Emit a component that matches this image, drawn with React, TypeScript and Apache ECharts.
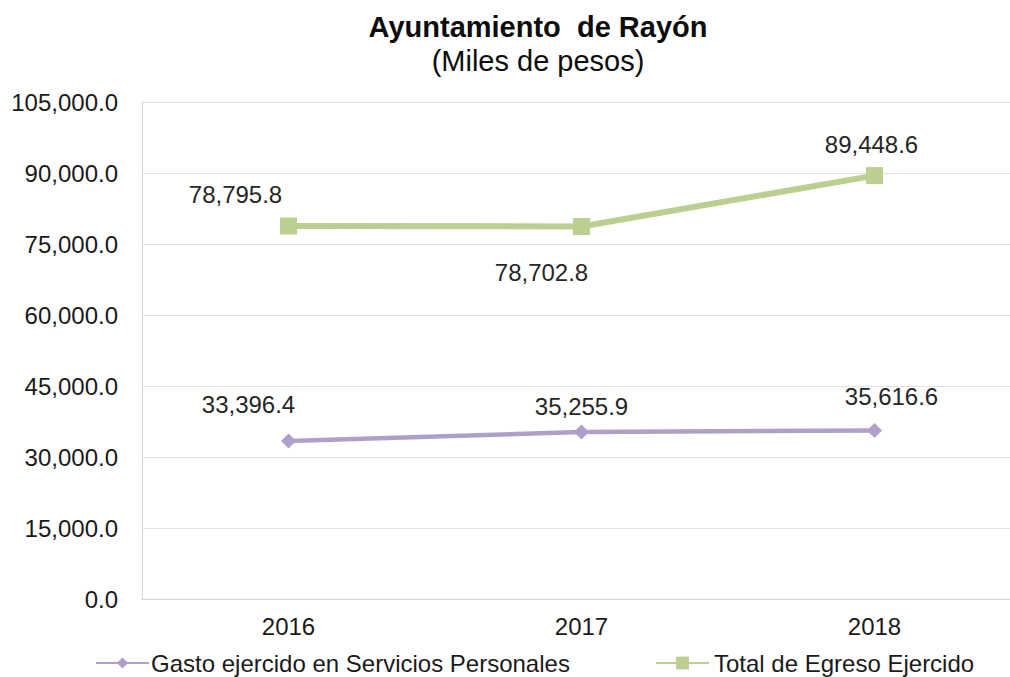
import React, { useEffect, useRef } from "react";
import * as echarts from "echarts";

const categories = ["2016", "2017", "2018"];
const gastoServicios = [33396.4, 35255.9, 35616.6];
const totalEgreso = [78795.8, 78702.8, 89448.6];
const seriesNames = ["Gasto ejercido en Servicios Personales", "Total de Egreso Ejercido"];
const titleText = "Ayuntamiento  de Rayón";
const subtitleText = "(Miles de pesos)";

// label placement (styling only)
const gastoLabelOffsets = [[-40, -36], [0, -26], [17, -34]];
const totalLabelOffsets = [[-53, -32], [-40, 46], [-3, -31]];

const FONT = "'Liberation Sans', Arial, sans-serif";
const GREEN = "#BBCF91";
const PURPLE = "#AFA0CA";
const fmt = (v: number) =>
  v.toLocaleString("en-US", { minimumFractionDigits: 1, maximumFractionDigits: 1 });

export default function App() {
  const ref = useRef<HTMLDivElement>(null);
  useEffect(() => {
    if (!ref.current) return;
    const chart = echarts.init(ref.current, undefined, { renderer: "svg" });
    const labelStyle = {
      show: true,
      position: "inside" as const,
      fontFamily: FONT,
      fontSize: 24,
      color: "#262626",
      formatter: (p: any) => fmt(p.value),
    };
    chart.setOption({
      animation: false,
      backgroundColor: "#ffffff",
      title: [
        {
          text: titleText,
          left: 533,
          top: 7,
          padding: 5,
          textAlign: "center",
          textStyle: { fontFamily: FONT, fontSize: 29, fontWeight: "bold", color: "#0d0d0d" },
        },
        {
          text: subtitleText,
          left: 533,
          top: 41,
          padding: 5,
          textAlign: "center",
          textStyle: { fontFamily: FONT, fontSize: 29, fontWeight: "normal", color: "#0d0d0d" },
        },
      ],
      grid: { left: 142, top: 102, width: 879, height: 497, containLabel: false },
      legend: [
        {
          data: [seriesNames[0]],
          left: 95,
          top: 651,
          padding: 0,
          itemWidth: 53,
          itemHeight: 14,
          textStyle: { fontFamily: FONT, fontSize: 24, color: "#1a1a1a", padding: [0, 0, 0, -3] },
        },
        {
          data: [seriesNames[1]],
          left: 655,
          top: 651,
          padding: 0,
          itemWidth: 53,
          itemHeight: 16,
          textStyle: { fontFamily: FONT, fontSize: 24, color: "#1a1a1a", padding: [0, 0, 0, 0] },
        },
      ],
      xAxis: {
        type: "category",
        data: categories,
        boundaryGap: true,
        axisTick: { show: false },
        axisLine: { show: true, lineStyle: { color: "#d4d4d4", width: 1 } },
        axisLabel: { margin: 15, fontFamily: FONT, fontSize: 24, color: "#1a1a1a" },
        splitLine: { show: false },
      },
      yAxis: {
        type: "value",
        min: 0,
        max: 105000,
        interval: 15000,
        axisTick: { show: false },
        axisLine: { show: true, lineStyle: { color: "#d4d4d4", width: 1 } },
        axisLabel: {
          margin: 24,
          fontFamily: FONT,
          fontSize: 24,
          color: "#1a1a1a",
          formatter: (v: number) => fmt(v),
        },
        splitLine: { show: true, lineStyle: { color: "#e3e3e3", width: 1 } },
      },
      series: [
        {
          name: seriesNames[0],
          type: "line",
          data: gastoServicios.map((v, i) => ({
            value: v,
            label: { ...labelStyle, offset: gastoLabelOffsets[i] },
          })),
          symbol: "diamond",
          symbolSize: 15,
          showAllSymbol: true,
          itemStyle: { color: PURPLE },
          lineStyle: { color: PURPLE, width: 4.5 },
          label: labelStyle,
          z: 3,
        },
        {
          name: seriesNames[1],
          type: "line",
          data: totalEgreso.map((v, i) => ({
            value: v,
            label: { ...labelStyle, offset: totalLabelOffsets[i] },
          })),
          symbol: "rect",
          symbolSize: 17,
          showAllSymbol: true,
          itemStyle: { color: GREEN },
          lineStyle: { color: GREEN, width: 6 },
          label: labelStyle,
          z: 3,
        },
      ],
    });
    return () => chart.dispose();
  }, []);
  return (
    <div style={{ position: "fixed", left: 0, top: 0, width: 1010, height: 677, overflow: "hidden", background: "#fff" }}>
      <div ref={ref} style={{ position: "absolute", left: 0, top: 0, width: 1040, height: 677 }} />
    </div>
  );
}
